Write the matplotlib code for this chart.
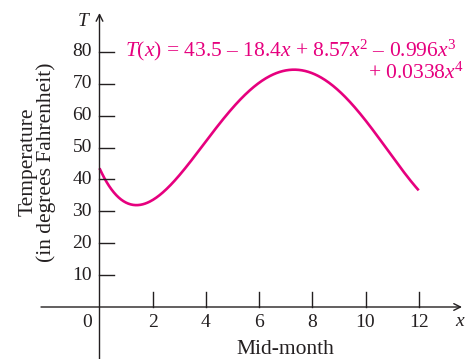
import matplotlib
matplotlib.use("Agg")
import matplotlib.pyplot as plt
import numpy as np

# T(x) = 43.5 - 18.4x + 8.57x^2 - 0.996x^3 + 0.0338x^4 (highest power first for polyval)
coeffs = [0.0338, -0.996, 8.57, -18.4, 43.5]
x_start, x_end = 0, 12
x_ticks = [2, 4, 6, 8, 10, 12]
y_ticks = [10, 20, 30, 40, 50, 60, 70, 80]

plt.rcParams["font.family"] = ["Liberation Serif", "DejaVu Serif"]
plt.rcParams["mathtext.fontset"] = "custom"
plt.rcParams["mathtext.rm"] = "Liberation Serif"
plt.rcParams["mathtext.it"] = "Liberation Serif:italic"

pink = "#e6007e"
dark = "#231f20"

# pixel -> data helpers (x=0 at px 99.5, 26.6 px/unit; T=0 at px 307, 3.19 px/unit)
def px(p):
    return (p - 99.5) / 26.6


def py(p):
    return (307 - p) / 3.19


def main():
    fig = plt.figure(figsize=(4.66, 3.59), dpi=100)
    ax = fig.add_axes([0, 0, 1, 1])
    ax.set_xlim(px(0), px(466))
    ax.set_ylim(py(359), py(0))

    xs = np.linspace(x_start, x_end, 400)
    ax.plot(xs, np.polyval(coeffs, xs), color=pink, lw=1.9, solid_capstyle="butt")

    for s in ax.spines.values():
        s.set_visible(False)
    ax.set_xticks([])
    ax.set_yticks([])

    # axes lines with open arrow heads
    ax.annotate("", xy=(px(462), 0), xytext=(px(41), 0),
                arrowprops=dict(arrowstyle="->", color=dark, lw=1.0,
                                mutation_scale=12, shrinkA=0, shrinkB=0))
    ax.annotate("", xy=(0, py(13)), xytext=(0, py(359)),
                arrowprops=dict(arrowstyle="->", color=dark, lw=1.0,
                                mutation_scale=12, shrinkA=0, shrinkB=0))

    fs = 14
    for t in x_ticks:
        ax.plot([t, t], [0, 4.6], color=dark, lw=1.0)
        ax.text(t, py(314), str(t), ha="center", va="top", fontsize=fs, color=dark)
    for t in y_ticks:
        ax.plot([0, 0.56], [t, t], color=dark, lw=1.0)
        ax.text(px(92), t, str(t), ha="right", va="center", fontsize=fs, color=dark)
    ax.text(px(92), py(314), "0", ha="right", va="top", fontsize=fs, color=dark)

    ax.text(px(84), py(21), "$T$", ha="center", va="center", fontsize=fs, color=dark)
    ax.text(px(460), py(322), "$x$", ha="center", va="center", fontsize=fs, color=dark)

    ax.text(px(37), py(162), "Temperature\n(in degrees Fahrenheit)", rotation=90,
            ha="center", va="center", fontsize=15.5, color=dark, linespacing=0.9)
    ax.text(px(285), py(350), "Mid-month",
            ha="center", va="center", fontsize=15.5, color=dark)

    ax.text(px(125), py(50),
            "$T(x)$ = 43.5 \u2013 18.4$x$ + 8.57$x^2$ \u2013 0.996$x^3$",
            ha="left", va="center", fontsize=15.5, color=pink)
    ax.text(px(464), py(73),
            "+ 0.0338$x^4$", ha="right", va="center", fontsize=15.5, color=pink)

    fig.savefig("out.png", dpi=100)


if __name__ == "__main__":
    main()
